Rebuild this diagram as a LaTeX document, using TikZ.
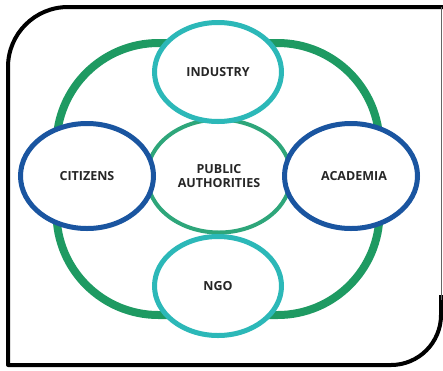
\documentclass[tikz,border=0pt]{standalone}
\usepackage{fontspec}
\setmainfont{Open Sans}
\usepackage{tikz}
\usetikzlibrary{shapes.geometric}
\definecolor{ringgreen}{HTML}{1E9A62}
\definecolor{coregreen}{HTML}{2EA67A}
\definecolor{sectorteal}{HTML}{2CB8B8}
\definecolor{partyblue}{HTML}{1A55A0}
\tikzstyle{frame} = [line width=4pt, line join=round]
\tikzstyle{ring} = [draw=ringgreen, line width=8pt, rounded corners=102pt, minimum width=323pt, minimum height=272pt]
\tikzstyle{core} = [ellipse, draw=coregreen, line width=4pt, minimum width=144pt, minimum height=113pt, align=center, text=black!85, font=\bfseries\fontsize{12.5}{14}\selectfont]
\tikzstyle{sector} = [ellipse, draw=sectorteal, fill=white, line width=5pt, minimum width=127pt, minimum height=99pt, text=black!85, font=\bfseries\fontsize{12.5}{14}\selectfont]
\tikzstyle{party} = [ellipse, draw=partyblue, fill=white, line width=5pt, minimum width=133pt, minimum height=105pt, text=black!85, font=\bfseries\fontsize{12.5}{14}\selectfont]
\def\sidedist{132}
\pgfdeclarelayer{background}
\pgfsetlayers{background,main}

\begin{document}
\begin{tikzpicture}[x=1pt, y=1pt]
    \useasboundingbox (0,0) rectangle (443,-370);

    % outer frame
    \draw[frame] (441,-295) -- (441,-315) arc[start angle=0, end angle=-90, radius=50pt]
        -- (8,-365) -- (8,-67) arc[start angle=180, end angle=90, radius=60pt] -- (443,-7);
    \draw[black!60, line width=1pt] (441,-7) -- (441,-300);

    \node (pa) [core] at (219,-176) {PUBLIC\\AUTHORITIES};

    \begin{pgfonlayer}{background}
        \path (pa)+(-1,-3) node (ring) [ring] {};
    \end{pgfonlayer}

    \path (pa)+(-1,104) node (industry) [sector] {INDUSTRY};
    \path (pa)+(-1,-110) node (ngo) [sector] {NGO};
    \path (pa)+(-\sidedist,0) node (citizens) [party] {CITIZENS};
    \path (pa)+(\sidedist,0) node (academia) [party, text depth=0pt, xshift=0pt] {\hspace*{6pt}ACADEMIA};

\end{tikzpicture}
\end{document}
